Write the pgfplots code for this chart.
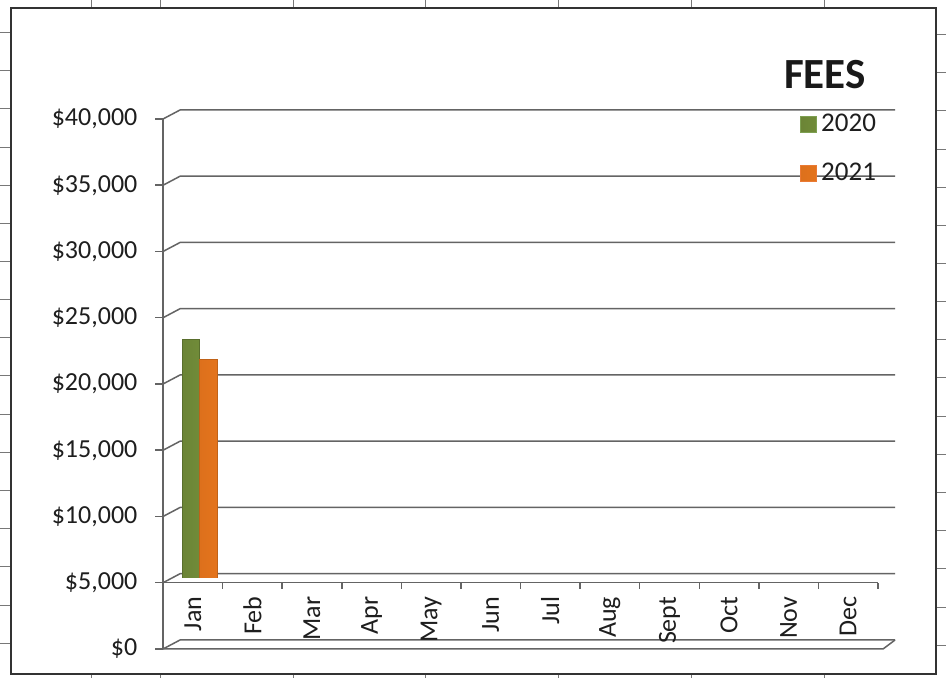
\documentclass[border=0pt]{standalone}
\usepackage{fontspec}
\setmainfont{Carlito}
\usepackage{pgfplots}
\pgfplotsset{compat=1.18}
\definecolor{g20}{RGB}{119,147,60}
\definecolor{o21}{RGB}{240,122,30}
\definecolor{g20leg}{RGB}{126,160,82}
\definecolor{o21leg}{RGB}{234,122,52}
\definecolor{gridc}{RGB}{100,100,100}
\definecolor{cellc}{RGB}{120,120,120}
\definecolor{txt}{RGB}{30,30,30}
\begin{document}
\begin{tikzpicture}
\path[use as bounding box, fill=white] (0pt,0pt) rectangle (473pt,339pt);
% spreadsheet cells around the chart
\foreach \y in {33,71,109,148,186,224,262,300,338,376,415,453,491,529,567,606,644}{
  \draw[cellc, line width=0.5pt] (0pt,{(678-\y)*0.5pt}) -- (5.5pt,{(678-\y)*0.5pt});
  \draw[cellc, line width=0.5pt] (468pt,{(676-\y)*0.5pt}) -- (473pt,{(676-\y)*0.5pt});
}
\foreach \x in {91,160,293,425,558,691,824}{
  \draw[cellc, line width=0.5pt] ({\x*0.5pt},335pt) -- ({\x*0.5pt},339pt);
  \draw[cellc, line width=0.5pt] ({\x*0.5pt},0pt) -- ({\x*0.5pt},2pt);
}
\draw[black!80, line width=1pt] (5.5pt,2pt) rectangle (468pt,335pt);

% value axis, walls and floor
\begin{axis}[
  at={(81.5pt,14.5pt)}, anchor=south west,
  scale only axis, width=357.5pt, height=265pt,
  xmin=-0.5, xmax=11.5, ymin=0, ymax=40000,
  axis x line=none, axis y line*=left, xtick=\empty,
  scaled y ticks=false,
  y axis line style={gridc, line width=0.75pt},
  ytick={0,5000,10000,15000,20000,25000,30000,35000,40000},
  yticklabels={{\$0},{\$5,000},{\$10,000},{\$15,000},{\$20,000},{\$25,000},{\$30,000},{\$35,000},{\$40,000}},
  tick align=outside, major tick length=4pt,
  ytick style={gridc, line width=0.75pt},
  yticklabel style={font=\fontsize{13}{15}\selectfont, text=txt, xshift=-5.3pt},
  /pgf/number format/assume math mode=true,
  clip=false,
]
\pgfplotsinvokeforeach{0,5000,10000,15000,20000,25000,30000,35000,40000}{
  \draw[gridc, line width=0.75pt] (axis cs:-0.5,#1) -- ++(8.5pt,4.5pt) -- ([xshift=8.5pt,yshift=4.5pt]axis cs:11.5,#1);
}
\draw[gridc, line width=0.75pt] (axis cs:-0.5,0) -- ([xshift=2.5pt]axis cs:11.5,0) -- ([xshift=8.5pt,yshift=4.5pt]axis cs:11.5,0);
\end{axis}

% bars, category axis and legend
\begin{axis}[
  at={(81.5pt,50pt)}, anchor=south west,
  scale only axis, width=357.5pt, height=231.875pt,
  xmin=-0.5, xmax=11.5, ymin=5000, ymax=40000,
  axis y line=none, axis x line*=bottom, axis x line shift=2.375pt,
  x axis line style={gridc, line width=0.75pt},
  xtick={0,...,11},
  xticklabels={Jan,Feb,Mar,Apr,May,Jun,Jul,Aug,Sept,Oct,Nov,Dec},
  minor xtick={0.5,1.5,...,11.5},
  tick align=outside, major tick length=0pt, minor tick length=3pt,
  xtick style={gridc, line width=0.75pt},
  xticklabel style={font=\fontsize{13}{15}\selectfont, text=txt, rotate=90, anchor=east, xshift=-3.5pt},
  ytick=\empty,
  ybar=0pt, bar width=8.75pt,
  legend style={at={(0.8909,1.0092)}, anchor=north west, draw=none, fill=none, inner sep=0pt,
    font=\fontsize{13.5}{15}\selectfont, text=txt, row sep=10pt,
    nodes={inner sep=2pt}},
  legend cell align=left,
]
\addplot[bar shift=-0.875pt, draw=g20!75!black, line width=0.4pt,
  left color=g20!90!black, middle color=g20!85!white, right color=g20!95!black,
  legend image code/.code={\fill[g20leg] (0pt,-4pt) rectangle (8pt,4pt);}]
  coordinates {(0,23000)};
\addlegendentry{2020}
\addplot[bar shift=7.875pt, draw=o21!80!black, line width=0.4pt,
  left color=o21!92!black, middle color=o21!85!white, right color=o21!95!black,
  legend image code/.code={\fill[o21leg] (0pt,-4pt) rectangle (8pt,4pt);}]
  coordinates {(0,21500)};
\addlegendentry{2021}
\end{axis}

\node[anchor=base, font=\bfseries\fontsize{21.5}{25}\selectfont, text=black!90] at (412.5pt,294.5pt) {FEES};
\end{tikzpicture}
\end{document}
